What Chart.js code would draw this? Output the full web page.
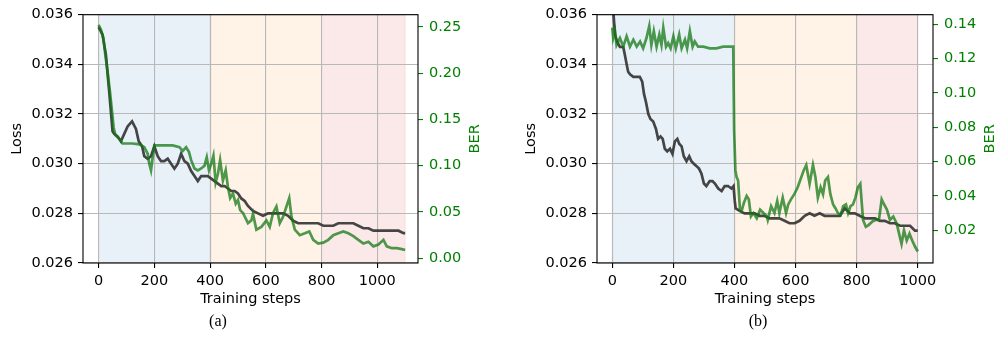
<!DOCTYPE html>
<html>
<head>
<meta charset="utf-8">
<script src="https://cdn.jsdelivr.net/npm/chart.js@4.4.1/dist/chart.umd.min.js"></script>
<style>
  html, body { margin: 0; padding: 0; background: #fff; }
  #wrap { position: relative; width: 997px; height: 358px; overflow: hidden; }
  canvas { position: absolute; top: 0; }
  .cap { position: absolute; top: 312px; width: 60px; text-align: center; line-height: 18px;
         font-family: "Liberation Serif", "Times New Roman", serif; font-size: 16px; color: #000; }
</style>
</head>
<body>
<div id="wrap">
  <canvas id="chartA" width="498" height="358" style="left:0"></canvas>
  <canvas id="chartB" width="499" height="358" style="left:498px"></canvas>
  <div class="cap" style="left:188px">(a)</div>
  <div class="cap" style="left:728px">(b)</div>
</div>
<script>
// tick labels
const xTicks = [0, 200, 400, 600, 800, 1000];
const lossTicks = [0.026, 0.028, 0.030, 0.032, 0.034, 0.036];
const berTicksA = [0, 0.05, 0.10, 0.15, 0.20, 0.25];
const berTicksB = [0.02, 0.04, 0.06, 0.08, 0.10, 0.12, 0.14];

// training phases (blue / orange / red bands)
const phaseEdgesA = [0, 400, 800, 1100];
const phaseEdgesB = [0, 400, 800, 1000];
const phaseColors = ["rgba(31,119,180,0.1)", "rgba(255,127,14,0.1)", "rgba(214,39,40,0.1)"];

// (a) loss
const stepsLossA = [0,14,26,38,50,56,68,80,92,104,120,134,144,156,164,176,188,200,212,224,
  236,248,260,272,284,296,308,320,332,344,356,368,380,392,404,416,428,440,452,464,
  476,488,500,512,524,536,554,572,590,608,626,644,662,680,698,716,734,752,770,788,
  806,824,842,860,878,896,914,932,950,968,986,1004,1022,1040,1058,1076,1094,1100];
const lossA = [0.0355,0.0352,0.0344,0.0329,0.0313,0.0312,0.0311,0.0309,0.0312,0.0315,
  0.0317,0.0314,0.0309,0.0307,0.0303,0.0302,0.0303,0.0307,0.0303,0.0301,
  0.0301,0.0302,0.0300,0.0298,0.0300,0.0304,0.0301,0.0300,0.0297,0.0295,
  0.0293,0.0295,0.0295,0.0295,0.0294,0.0293,0.0292,0.0291,0.0291,0.0290,
  0.0289,0.0289,0.0288,0.0286,0.0285,0.0283,0.0281,0.0280,0.0279,0.0280,
  0.0280,0.0280,0.0280,0.0279,0.0277,0.0276,0.0276,0.0276,0.0276,0.0276,
  0.0275,0.0275,0.0275,0.0276,0.0276,0.0276,0.0276,0.0275,0.0274,0.0274,
  0.0273,0.0273,0.0273,0.0273,0.0273,0.0273,0.0272,0.0272];

// (a) BER
const stepsBerA = [0,8,17,24,32,41,48,54,60,74,86,98,122,146,164,176,182,188,194,200,
  218,242,266,290,302,314,324,332,344,356,368,380,388,396,404,412,420,428,436,446,
  456,464,472,482,492,500,508,518,528,536,548,554,566,584,602,614,626,638,650,662,
  674,684,692,704,722,740,756,770,788,806,824,842,860,878,896,914,932,950,968,986,
  1004,1022,1034,1052,1070,1088,1100];
const berA = [0.252,0.247,0.238,0.220,0.202,0.179,0.159,0.141,0.133,0.129,
  0.124,0.124,0.124,0.123,0.120,0.113,0.102,0.095,0.109,0.122,
  0.122,0.122,0.122,0.120,0.116,0.120,0.115,0.106,0.097,0.095,
  0.097,0.100,0.109,0.095,0.102,0.111,0.082,0.091,0.106,0.084,
  0.095,0.077,0.065,0.070,0.059,0.063,0.052,0.049,0.043,0.038,
  0.041,0.048,0.031,0.034,0.041,0.034,0.049,0.056,0.038,0.045,
  0.056,0.065,0.045,0.031,0.025,0.027,0.029,0.020,0.016,0.017,
  0.020,0.025,0.027,0.029,0.027,0.024,0.020,0.016,0.018,0.013,
  0.015,0.020,0.013,0.011,0.011,0.010,0.009];

// (b) loss
const stepsLossB = [0,3,9,16,25,36,41,47,52,58,69,80,90,98,104,110,118,125,134,143,
  150,158,165,172,180,189,197,205,213,219,227,234,243,252,259,267,276,284,292,300,
  308,319,328,336,347,358,368,379,390,397,401,404,417,433,450,466,482,498,514,531,
  547,564,580,597,613,630,646,662,679,695,712,728,745,761,778,794,810,827,843,860,
  876,892,909,925,942,958,975,991,1000];
const lossB = [0.0372,0.0362,0.0352,0.0349,0.0347,0.0347,0.0344,0.0340,0.0337,0.0336,
  0.0335,0.0335,0.0335,0.0333,0.0328,0.0325,0.0320,0.0318,0.0317,0.0314,
  0.0310,0.0311,0.0310,0.0306,0.0305,0.0306,0.0304,0.0309,0.0310,0.0308,
  0.0307,0.0303,0.0301,0.0303,0.0301,0.0300,0.0299,0.0298,0.0296,0.0292,
  0.0291,0.0293,0.0293,0.0292,0.0290,0.0289,0.0291,0.0291,0.0290,0.0291,
  0.0285,0.0282,0.0281,0.0280,0.0280,0.0280,0.0279,0.0279,0.0278,0.0278,
  0.0278,0.0277,0.0276,0.0276,0.0277,0.0279,0.0280,0.0279,0.0280,0.0279,
  0.0279,0.0279,0.0279,0.0282,0.0280,0.0280,0.0279,0.0278,0.0278,0.0278,
  0.0277,0.0277,0.0276,0.0276,0.0275,0.0275,0.0275,0.0273,0.0273];

// (b) BER
const stepsBerB = [0,3,9,14,25,36,47,58,69,80,91,101,112,121,128,136,145,154,161,167,
  176,183,191,200,208,219,227,238,245,254,263,270,281,298,319,341,363,385,396,399,
  403,407,412,418,423,431,440,447,454,462,473,484,495,506,509,520,531,540,547,558,
  569,576,585,596,607,619,627,635,640,646,657,665,673,682,690,697,706,714,723,730,
  739,748,756,765,772,780,788,796,804,812,821,830,839,851,862,873,882,890,899,909,
  920,931,939,947,955,964,973,982,991,1000];
const berB = [0.138,0.132,0.136,0.128,0.132,0.127,0.133,0.127,0.131,0.127,
  0.130,0.126,0.132,0.139,0.128,0.136,0.127,0.134,0.128,0.138,
  0.127,0.129,0.126,0.133,0.126,0.134,0.126,0.131,0.126,0.136,
  0.127,0.130,0.127,0.127,0.126,0.126,0.127,0.127,0.127,0.078,
  0.055,0.051,0.049,0.032,0.031,0.036,0.040,0.038,0.028,0.030,
  0.027,0.032,0.030,0.028,0.026,0.034,0.030,0.037,0.030,0.039,
  0.030,0.035,0.038,0.041,0.045,0.051,0.055,0.058,0.053,0.047,
  0.058,0.051,0.039,0.045,0.041,0.049,0.051,0.041,0.035,0.033,
  0.030,0.029,0.034,0.035,0.030,0.034,0.035,0.039,0.045,0.047,
  0.026,0.022,0.023,0.025,0.026,0.026,0.038,0.035,0.032,0.026,
  0.028,0.024,0.018,0.012,0.020,0.014,0.018,0.014,0.0105,0.0076];

Chart.defaults.font.family = "DejaVu Sans";
Chart.defaults.font.size = 14.5;

const GREEN = "#008000";

function toPoints(xs, ys) {
  return xs.map((x, i) => ({ x: x, y: ys[i] }));
}

function buildChart(id, o) {
  const phasePlugin = {
    id: "phases",
    beforeDraw(chart) {
      const { ctx, chartArea } = chart;
      const xs = chart.scales.x;
      ctx.save();
      for (let i = 0; i < o.edges.length - 1; i++) {
        const x0 = xs.getPixelForValue(o.edges[i]);
        const x1 = xs.getPixelForValue(o.edges[i + 1]);
        ctx.fillStyle = phaseColors[i];
        ctx.fillRect(x0, chartArea.top, x1 - x0, chartArea.bottom - chartArea.top);
        ctx.strokeStyle = phaseColors[i];
        ctx.lineWidth = 1;
        ctx.strokeRect(x0, chartArea.top, x1 - x0, chartArea.bottom - chartArea.top);
      }
      ctx.restore();
    },
    afterDraw(chart) {
      const { ctx, chartArea } = chart;
      ctx.save();
      ctx.strokeStyle = "#000";
      ctx.lineWidth = 1.1;
      ctx.strokeRect(chartArea.left, chartArea.top,
        chartArea.right - chartArea.left, chartArea.bottom - chartArea.top);
      // right axis label, reads bottom to top like the left one
      ctx.translate(chartArea.right + 57, (chartArea.top + chartArea.bottom) / 2);
      ctx.rotate(-Math.PI / 2);
      ctx.fillStyle = GREEN;
      ctx.font = "14.5px 'DejaVu Sans'";
      ctx.textAlign = "center";
      ctx.textBaseline = "middle";
      ctx.fillText("BER", 0, 0);
      ctx.restore();
    }
  };

  return new Chart(document.getElementById(id), {
    type: "line",
    data: {
      datasets: [
        {
          label: "BER",
          data: toPoints(o.stepsBer, o.ber),
          yAxisID: "y1",
          borderColor: "rgba(20,120,20,0.75)",
          borderWidth: 2.7,
          pointRadius: 0,
          tension: 0,
          order: 0
        },
        {
          label: "Loss",
          data: toPoints(o.stepsLoss, o.loss),
          yAxisID: "y",
          borderColor: "rgba(45,45,45,0.88)",
          borderWidth: 2.7,
          pointRadius: 0,
          tension: 0,
          order: 1
        }
      ]
    },
    options: {
      responsive: false,
      animation: false,
      layout: { padding: { top: 13, left: 0, right: 0, bottom: 0 } },
      plugins: { legend: { display: false }, tooltip: { enabled: false } },
      scales: {
        x: {
          type: "linear",
          min: o.xMin,
          max: o.xMax,
          afterBuildTicks: (s) => { s.ticks = xTicks.map((v) => ({ value: v })); },
          afterFit: (s) => { s.height = 95; },
          border: { display: false },
          grid: { color: "#b8b8b8", lineWidth: 1.1, tickColor: "#000", tickLength: 5 },
          ticks: { color: "#000", padding: 5, maxRotation: 0, callback: (v) => String(v) },
          title: { display: true, text: "Training steps", color: "#000", padding: { top: 0, bottom: 50 } }
        },
        y: {
          type: "linear",
          position: "left",
          min: 0.026,
          max: 0.036,
          afterBuildTicks: (s) => { s.ticks = lossTicks.map((v) => ({ value: v })); },
          afterFit: (s) => { s.width = o.leftW; },
          border: { display: false },
          grid: { color: "#b8b8b8", lineWidth: 1.1, tickColor: "#000", tickLength: 5 },
          ticks: { color: "#000", padding: 5, callback: (v) => v.toFixed(3) },
          title: { display: true, text: "Loss", color: "#000", padding: { top: o.lossTitlePad, bottom: 0 } }
        },
        y1: {
          type: "linear",
          position: "right",
          min: o.berMin,
          max: o.berMax,
          afterBuildTicks: (s) => { s.ticks = o.berTicks.map((v) => ({ value: v })); },
          afterFit: (s) => { s.width = o.rightW; },
          border: { display: false },
          grid: { drawOnChartArea: false, tickColor: GREEN, tickLength: 5, lineWidth: 1.1 },
          ticks: { color: GREEN, padding: 6, callback: (v) => v.toFixed(2) }
        }
      }
    },
    plugins: [phasePlugin]
  });
}

buildChart("chartA", {
  stepsLoss: stepsLossA, loss: lossA, stepsBer: stepsBerA, ber: berA,
  edges: phaseEdgesA, berTicks: berTicksA,
  xMin: -56, xMax: 1146, berMin: -0.005, berMax: 0.263,
  leftW: 83, rightW: 80, lossTitlePad: 9
});

buildChart("chartB", {
  stepsLoss: stepsLossB, loss: lossB, stepsBer: stepsBerB, ber: berB,
  edges: phaseEdgesB, berTicks: berTicksB,
  xMin: -50, xMax: 1050, berMin: 0.0009, berMax: 0.1456,
  leftW: 99, rightW: 64, lossTitlePad: 25
});
</script>
</body>
</html>
